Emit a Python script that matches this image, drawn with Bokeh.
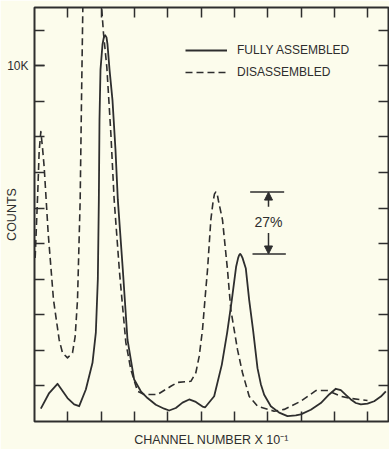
from bokeh.plotting import figure
from bokeh.models import (Range1d, LinearAxis, FixedTicker, Label, Legend,
                          LegendItem, Arrow, NormalHead, ColumnDataSource)
from bokeh.embed import file_html
from bokeh.resources import INLINE

# Pulse-height spectra: channel number (x 10^-1) against counts
channel_full = [0.19, 0.44, 0.69, 0.99, 1.19, 1.34, 1.54, 1.74, 1.84, 1.90,
                1.93, 1.95, 1.98, 2.04, 2.08, 2.12, 2.16, 2.19, 2.25, 2.34,
                2.43, 2.50, 2.65, 2.79, 2.99, 3.19, 3.39, 3.64, 3.89, 4.04,
                4.24, 4.44, 4.64, 4.84, 5.04, 5.12, 5.39, 5.62, 5.78, 5.92,
                6.05, 6.11, 6.14, 6.17, 6.20, 6.24, 6.34, 6.44, 6.56, 6.69,
                6.79, 6.89, 7.09, 7.34, 7.59, 7.84, 7.99, 8.29, 8.59, 8.84,
                9.04, 9.19, 9.34, 9.49, 9.64, 9.79, 9.99, 10.19, 10.39, 10.54]
counts_full = [360, 800, 1060, 660, 480, 430, 900, 1650, 2500, 4000,
               6200, 8500, 9900, 10600, 10800, 10860, 10800, 10600, 9900, 9030,
               7630, 6230, 4260, 2300, 1180, 850, 660, 470, 360, 310,
               380, 530, 620, 550, 420, 400, 710, 1600, 2500, 3420,
               4360, 4600, 4680, 4710, 4680, 4600, 4300, 3420, 2550, 1500,
               1050, 750, 430, 250, 150, 170, 200, 330, 520, 760,
               920, 880, 750, 620, 520, 480, 500, 570, 700, 850]

channel_dis = [0.02, 0.10, 0.14, 0.19, 0.24, 0.29, 0.41, 0.57, 0.74, 0.84,
               0.99, 1.14, 1.22, 1.29, 1.37, 1.41, 1.45, 1.60, 1.74, 1.88,
               2.02, 2.07, 2.17, 2.29, 2.39, 2.55, 2.74, 2.89, 3.09, 3.29,
               3.69, 4.09, 4.29, 4.69, 4.84, 4.94, 5.04, 5.12, 5.19, 5.29,
               5.36, 5.40, 5.44, 5.48, 5.52, 5.64, 5.79, 5.89, 6.09, 6.24,
               6.44, 6.69, 7.19, 7.49, 7.99, 8.44, 8.79, 9.19, 9.49, 9.99]
counts_dis = [4600, 6500, 7600, 8150, 7700, 7160, 5300, 3420, 2300, 1930,
              1790, 1930, 2390, 3420, 6230, 9030, 11640, 13500, 14000, 13500,
              11560, 10910, 9960, 8110, 6230, 4200, 2220, 1460, 850, 760,
              760, 990, 1100, 1130, 1370, 1830, 2580, 3500, 4260, 5670,
              6200, 6400, 6450, 6400, 6200, 5670, 4260, 3140, 2020, 1370,
              710, 430, 290, 340, 570, 870, 870, 710, 650, 590]

x_ticks = [1, 2, 3, 4, 5, 6, 7, 8, 9, 10]
y_ticks = [1000, 2000, 3000, 4000, 5000, 6000, 7000, 8000, 9000, 10000, 11000]
y_labelled = {10000: "10K"}

series_labels = ["FULLY ASSEMBLED", "DISASSEMBLED"]
x_title = "CHANNEL NUMBER X 10\u207b\u00b9"
y_title = "COUNTS"

BG = "#fcfcec"
INK = "#2e2e2e"
FONT = "Liberation Sans"

p = figure(width=389, height=449, output_backend="svg", toolbar_location=None,
           x_range=Range1d(0, 10.62), y_range=Range1d(0, 11640),
           x_axis_location=None, y_axis_location=None,
           min_border_left=34, min_border_right=1, min_border_top=7,
           min_border_bottom=28,
           background_fill_color=BG, border_fill_color=BG,
           outline_line_color=INK, outline_line_width=2)
p.grid.visible = False


def inward_axis(ticks, labelled=None, title=None, title_standoff=0,
                title_line_height=1.2):
    # every tick is an inward minor tick; only labelled values become majors
    majors = sorted(labelled) if labelled else []
    ax = LinearAxis(ticker=FixedTicker(ticks=majors, minor_ticks=ticks),
                    major_tick_in=10, major_tick_out=0,
                    minor_tick_in=10, minor_tick_out=0,
                    major_tick_line_color=INK, major_tick_line_width=1.5,
                    minor_tick_line_color=INK, minor_tick_line_width=1.5,
                    axis_line_alpha=0,
                    major_label_text_font=FONT,
                    major_label_text_font_size="12px",
                    major_label_text_color=INK,
                    major_label_standoff=6 if labelled else 0)
    if labelled:
        ax.major_label_overrides = dict(labelled)
    if title:
        ax.axis_label = title
        ax.axis_label_standoff = title_standoff
        ax.axis_label_text_font = FONT
        ax.axis_label_text_font_size = "12.5px"
        ax.axis_label_text_font_style = "normal"
        ax.axis_label_text_color = INK
        ax.axis_label_text_line_height = title_line_height
    return ax


p.add_layout(inward_axis(y_ticks, y_labelled, y_title, -15), "left")
p.add_layout(inward_axis(y_ticks), "right")
p.add_layout(inward_axis(x_ticks, None, x_title, 11, 0.6), "below")
p.add_layout(inward_axis(x_ticks), "above")

src_full = ColumnDataSource(dict(x=channel_full, y=counts_full))
src_dis = ColumnDataSource(dict(x=channel_dis, y=counts_dis))

r_full = p.line("x", "y", source=src_full, line_color=INK, line_width=1.8,
                line_join="round")
r_dis = p.line("x", "y", source=src_dis, line_color=INK, line_width=1.6,
               line_dash="7 4", line_join="round")

legend = Legend(items=[LegendItem(label=series_labels[0], renderers=[r_full]),
                       LegendItem(label=series_labels[1], renderers=[r_dis])],
                location=(151, 339), glyph_width=42, glyph_height=20,
                label_standoff=10, spacing=2, padding=0, margin=0,
                background_fill_alpha=0, border_line_alpha=0,
                label_text_font=FONT, label_text_font_size="12px",
                label_text_color=INK)
p.add_layout(legend)

# Drop of the second peak between the two spectra
dis_peak = max(c for x, c in zip(channel_dis, counts_dis) if x > 4.5)
full_peak = max(c for x, c in zip(channel_full, counts_full) if x > 4.5)
drop_pct = round((dis_peak - full_peak) / dis_peak * 100)

p.segment(x0=[6.47, 6.54], y0=[dis_peak, full_peak],
          x1=[7.49, 7.54], y1=[dis_peak, full_peak],
          line_color=INK, line_width=1.5)
arrow_x = 7.02
p.add_layout(Arrow(end=NormalHead(size=8, fill_color=INK, line_color=INK),
                   x_start=arrow_x, y_start=6040, x_end=arrow_x, y_end=dis_peak,
                   line_color=INK, line_width=1.5))
p.add_layout(Arrow(end=NormalHead(size=8, fill_color=INK, line_color=INK),
                   x_start=arrow_x, y_start=5300, x_end=arrow_x, y_end=full_peak,
                   line_color=INK, line_width=1.5))
p.add_layout(Label(x=arrow_x, y=5600, text=f"{drop_pct}%",
                   text_align="center", text_baseline="middle",
                   text_font=FONT, text_font_size="14px", text_color=INK))

open("out.html", "w").write(file_html(p, INLINE))
